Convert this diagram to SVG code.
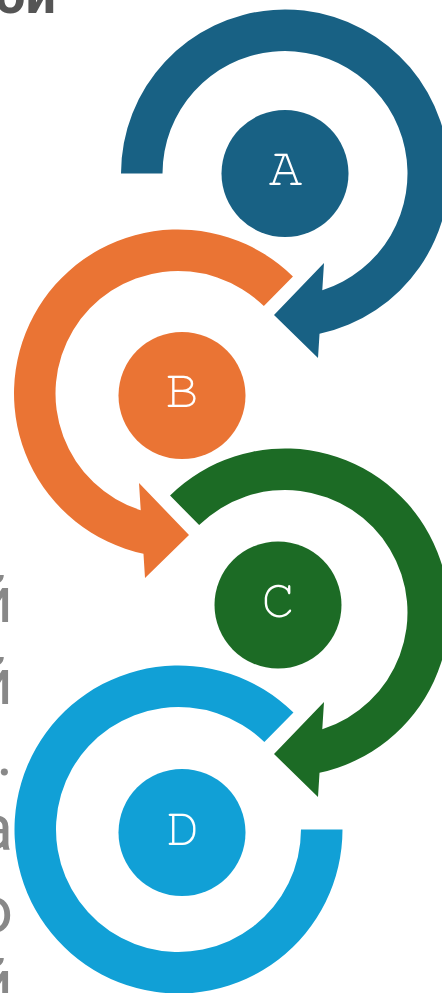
<svg xmlns="http://www.w3.org/2000/svg" width="442" height="993" viewBox="0 0 442 993">
  <style>
    .frag { font-family: Roboto, "Liberation Sans", sans-serif; font-size: 64px; fill: #888888; text-anchor: end; }
    .title { font-family: Roboto, "Liberation Sans", sans-serif; font-size: 54px; font-weight: bold; fill: #555555; text-anchor: end; }
    .lbl { font-family: FreeMono, "Liberation Mono", "Courier New", monospace; font-size: 56px; fill: #ffffff; text-anchor: middle; }
  </style>
  <rect x="0" y="0" width="442" height="993" fill="#ffffff"/>
  <g id="text-fragments">
    <text class="title" x="56" y="12.5">ой</text>
    <text class="frag" x="13" y="622">й</text>
    <text class="frag" x="13" y="704">й</text>
    <text class="frag" x="13" y="775">.</text>
    <text class="frag" x="13" y="850">а</text>
    <text class="frag" x="13" y="932">о</text>
    <text class="frag" x="13" y="1005">й</text>
  </g>
  <g id="connectors">
    <path id="arrow-A" fill="#186184" d="M121,173.5 A164,164 0 1 1 319.53,333.82 L318,358 L274,315 L324,263 L322.28,290.19 A122.5,122.5 0 1 0 162.5,173.5 Z"/>
    <path id="arrow-B" fill="#EA7434" d="M292.95,276.52 A164,164 0 1 0 143.47,553.82 L145,578 L189,535 L139,483 L140.72,510.19 A122.5,122.5 0 1 1 263.86,306.12 Z"/>
    <path id="arrow-C" fill="#1C6B25" d="M170.05,495.52 A164,164 0 1 1 319.53,772.82 L318,797 L274,754 L324,702 L322.28,729.19 A122.5,122.5 0 1 0 199.14,525.12 Z"/>
    <path id="ring-D" fill="#11A0D6" d="M293.45,712.52 A164,164 0 1 0 342.5,829.5 L301,829.5 A122.5,122.5 0 1 1 264.36,742.12 Z"/>
  </g>
  <g id="node-A">
    <circle cx="285" cy="173.5" r="63.5" fill="#186184"/>
    <text class="lbl" x="285.5" y="185">A</text>
  </g>
  <g id="node-B">
    <circle cx="182" cy="395.5" r="63.5" fill="#EA7434"/>
    <text class="lbl" x="182" y="407">B</text>
  </g>
  <g id="node-C">
    <circle cx="278" cy="605" r="63.5" fill="#1C6B25"/>
    <text class="lbl" x="278" y="617">C</text>
  </g>
  <g id="node-D">
    <circle cx="182" cy="832.5" r="63.5" fill="#11A0D6"/>
    <text class="lbl" x="183" y="845">D</text>
  </g>
</svg>
